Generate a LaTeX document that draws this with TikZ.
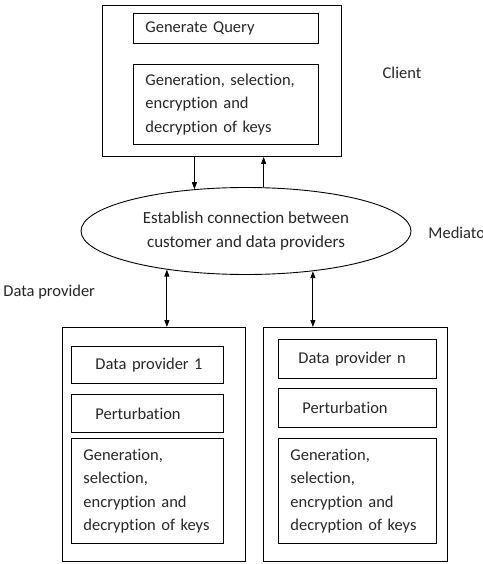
\documentclass[tikz,border=0pt]{standalone}
\usepackage{fontspec}
\setmainfont{Carlito}[Ligatures=NoCommon]
\usetikzlibrary{arrows.meta,shapes.geometric,positioning}

\begin{document}
\begin{tikzpicture}[x=1pt,y=-1pt,line width=0.9pt,>={Triangle[length=7pt,width=5pt]},
  every node/.style={font=\fontsize{16.5}{23.5}\selectfont,text=black!85},
  outer/.style={draw,rectangle,anchor=north west,inner sep=0pt},
  part/.style={draw,rectangle,anchor=north west,align=left,inner ysep=0pt},
  lbl/.style={inner sep=0pt}]
  \useasboundingbox (0,0) rectangle (482,564);
  % Client
  \node[outer,minimum width=239,minimum height=151] (client) at (102,5) {};
  \node[part,text width=161,inner xsep=12,minimum height=30] (query) at (133,13) {Generate Query};
  \node[part,text width=161,inner xsep=12,minimum height=80] (ckeys) at (133,64)
    {Generation, selection,\\encryption and\\decryption of keys};
  \node[lbl] (clientlbl) at (402,73) {Client};
  % Mediator
  \node[draw,ellipse,minimum width=330,minimum height=87,align=center,
    font=\fontsize{17}{23.5}\selectfont] (med) at (246,231)
    {Establish connection between\\customer and data providers};
  \node[lbl,anchor=west] (medlbl) at (428,233) {Mediator};
  % Data providers
  \node[lbl,anchor=west] (dplbl) at (3,292) {Data provider};
  \node[outer,minimum width=183,minimum height=234] (dp1) at (62,327) {};
  \node[part,text width=104,inner xsep=24,minimum height=37] (name1) at (71,346) {\mbox{Data provider 1}};
  \node[part,text width=104,inner xsep=24,minimum height=38] (pert1) at (71,394) {Perturbation};
  \node[part,text width=128,inner xsep=12,minimum height=105] (keys1) at (71,438)
    {Generation,\\selection,\\encryption and\\decryption of keys};
  \node[outer,minimum width=184,minimum height=234] (dpn) at (263,327) {};
  \node[part,text width=118,inner xsep=20,minimum height=39] (namen) at (278,339) {\mbox{Data provider n}};
  \node[part,text width=110,inner xsep=24,minimum height=39] (pertn) at (278,388) {Perturbation};
  \node[part,text width=134,inner xsep=12,minimum height=105] (keysn) at (278,438)
    {Generation,\\selection,\\encryption and\\decryption of keys};
  % Connectors
  \draw[->] (med.141 |- client.south) -- (med.141);
  \draw[->] (med.68) -- (med.68 |- client.south);
  \draw[<->] (med.206) -- (med.206 |- dp1.north);
  \draw[<->] (med.-31) -- (med.-31 |- dpn.north);
\end{tikzpicture}
\end{document}
